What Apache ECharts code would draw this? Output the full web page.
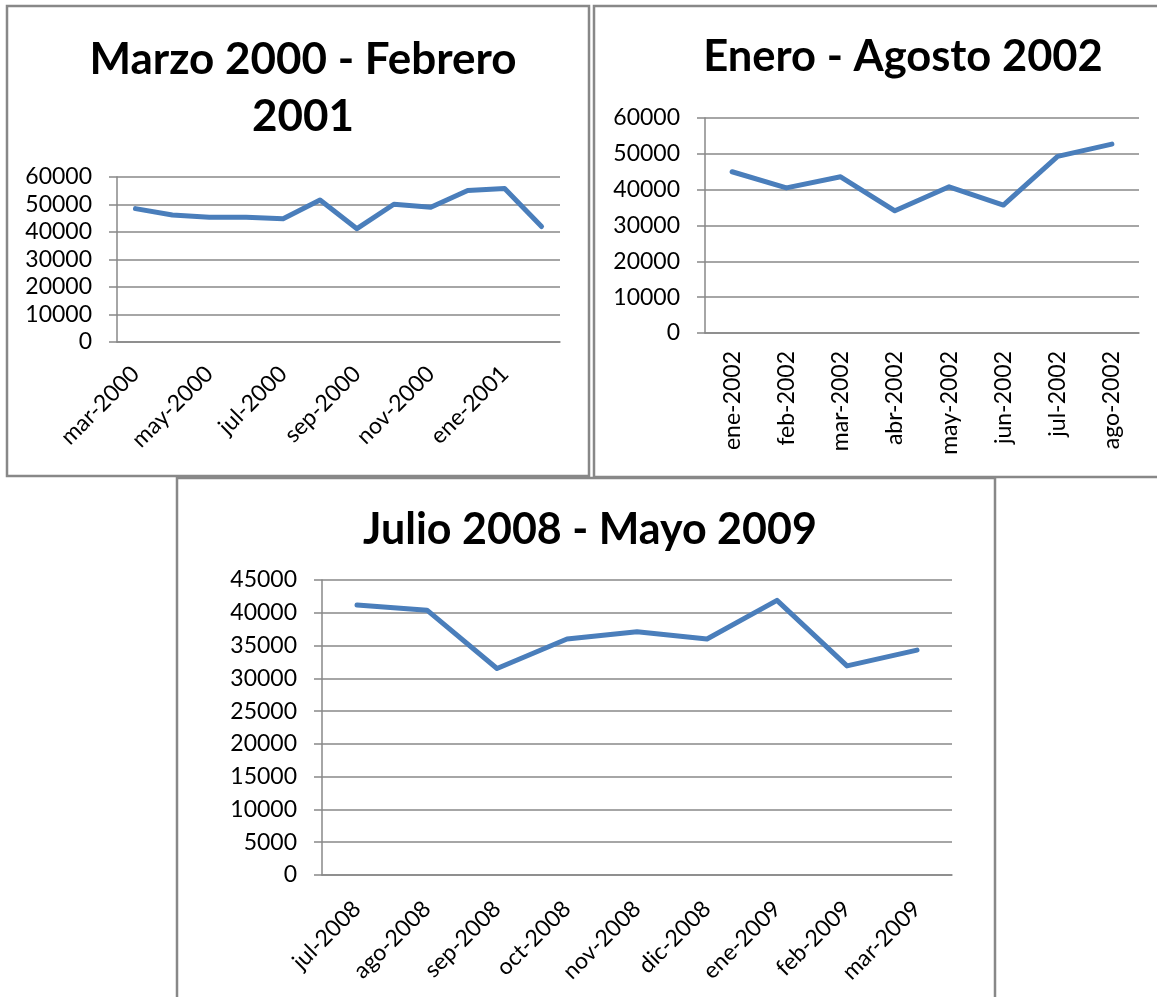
<!DOCTYPE html>
<html>
<head>
<meta charset="utf-8">
<script src="https://cdn.jsdelivr.net/npm/echarts@6/dist/echarts.min.js"></script>
<style>
  html, body { margin: 0; padding: 0; background: #fff; }
  #chart { width: 1157px; height: 997px; }
</style>
</head>
<body>
<div id="chart"></div>
<script>
// Marzo 2000 - Febrero 2001
var months1 = ['mar-2000', 'abr-2000', 'may-2000', 'jun-2000', 'jul-2000', 'ago-2000',
  'sep-2000', 'oct-2000', 'nov-2000', 'dic-2000', 'ene-2001', 'feb-2001'];
var values1 = [48500, 46200, 45400, 45400, 44800, 51600, 41200, 50100, 49000, 55100, 55800, 42000];

// Enero - Agosto 2002
var months2 = ['ene-2002', 'feb-2002', 'mar-2002', 'abr-2002', 'may-2002', 'jun-2002', 'jul-2002', 'ago-2002'];
var values2 = [45000, 40500, 43600, 34100, 40800, 35700, 49300, 52700];

// Julio 2008 - Mayo 2009
var months3 = ['jul-2008', 'ago-2008', 'sep-2008', 'oct-2008', 'nov-2008', 'dic-2008', 'ene-2009', 'feb-2009', 'mar-2009'];
var values3 = [41200, 40400, 31500, 36000, 37100, 36000, 41900, 31900, 34300];

var titles = ['Marzo 2000 - Febrero\n2001', 'Enero - Agosto 2002', 'Julio 2008 - Mayo 2009'];

var font = 'Lato';
var grey = '#888888';
var blue = '#4a7ebb';

var chart = echarts.init(document.getElementById('chart'));

function titleOpt(text, x, y, size) {
  return {
    text: text,
    left: x,
    top: y,
    textAlign: 'center',
    textStyle: {
      fontFamily: font,
      fontSize: size,
      fontWeight: 'bold',
      color: '#000',
      lineHeight: 57
    }
  };
}

function xAxisOpt(idx, cats, every, rotate, margin) {
  return {
    type: 'category',
    gridIndex: idx,
    data: cats,
    boundaryGap: true,
    axisLine: { lineStyle: { color: grey, width: 1.5 } },
    axisTick: { interval: every, length: 8, lineStyle: { color: grey, width: 1.5 } },
    axisLabel: {
      interval: every,
      rotate: rotate,
      margin: margin,
      fontFamily: font,
      fontSize: 23,
      color: '#000'
    }
  };
}

function yAxisOpt(idx, max, step) {
  return {
    type: 'value',
    gridIndex: idx,
    min: 0,
    max: max,
    interval: step,
    axisLine: { show: true, lineStyle: { color: grey, width: 1.5 } },
    axisTick: { show: true, length: 8, lineStyle: { color: grey, width: 1.5 } },
    splitLine: { lineStyle: { color: grey, width: 1.5 } },
    axisLabel: {
      margin: 25,
      fontFamily: font,
      fontSize: 23,
      color: '#000',
      formatter: function (v) { return String(v); }
    }
  };
}

function lineOpt(idx, vals) {
  return {
    type: 'line',
    xAxisIndex: idx,
    yAxisIndex: idx,
    data: vals,
    symbol: 'none',
    lineStyle: { color: blue, width: 5, cap: 'round', join: 'round' }
  };
}

var option = {
  animation: false,
  backgroundColor: '#fff',
  title: [
    titleOpt(titles[0], 298, 26, 44),
    titleOpt(titles[1], 898, 23, 43.5),
    titleOpt(titles[2], 585, 497, 43)
  ],
  grid: [
    { left: 117, top: 177, width: 443, height: 165 },
    { left: 705, top: 118, width: 434, height: 215 },
    { left: 322, top: 580, width: 630, height: 295 }
  ],
  xAxis: [
    xAxisOpt(0, months1, 1, 45, 28),
    xAxisOpt(1, months2, 0, 90, 18),
    xAxisOpt(2, months3, 0, 45, 30)
  ],
  yAxis: [
    yAxisOpt(0, 60000, 10000),
    yAxisOpt(1, 60000, 10000),
    yAxisOpt(2, 45000, 5000)
  ],
  series: [
    lineOpt(0, values1),
    lineOpt(1, values2),
    lineOpt(2, values3)
  ],
  graphic: [
    { type: 'rect', shape: { x: 7, y: 6, width: 582, height: 470 }, style: { fill: 'none', stroke: grey, lineWidth: 2.5 } },
    { type: 'rect', shape: { x: 594, y: 6, width: 600, height: 471 }, style: { fill: 'none', stroke: grey, lineWidth: 2.5 } },
    { type: 'rect', shape: { x: 177, y: 478, width: 818, height: 540 }, style: { fill: 'none', stroke: grey, lineWidth: 2.5 } }
  ]
};

chart.setOption(option);
</script>
</body>
</html>
